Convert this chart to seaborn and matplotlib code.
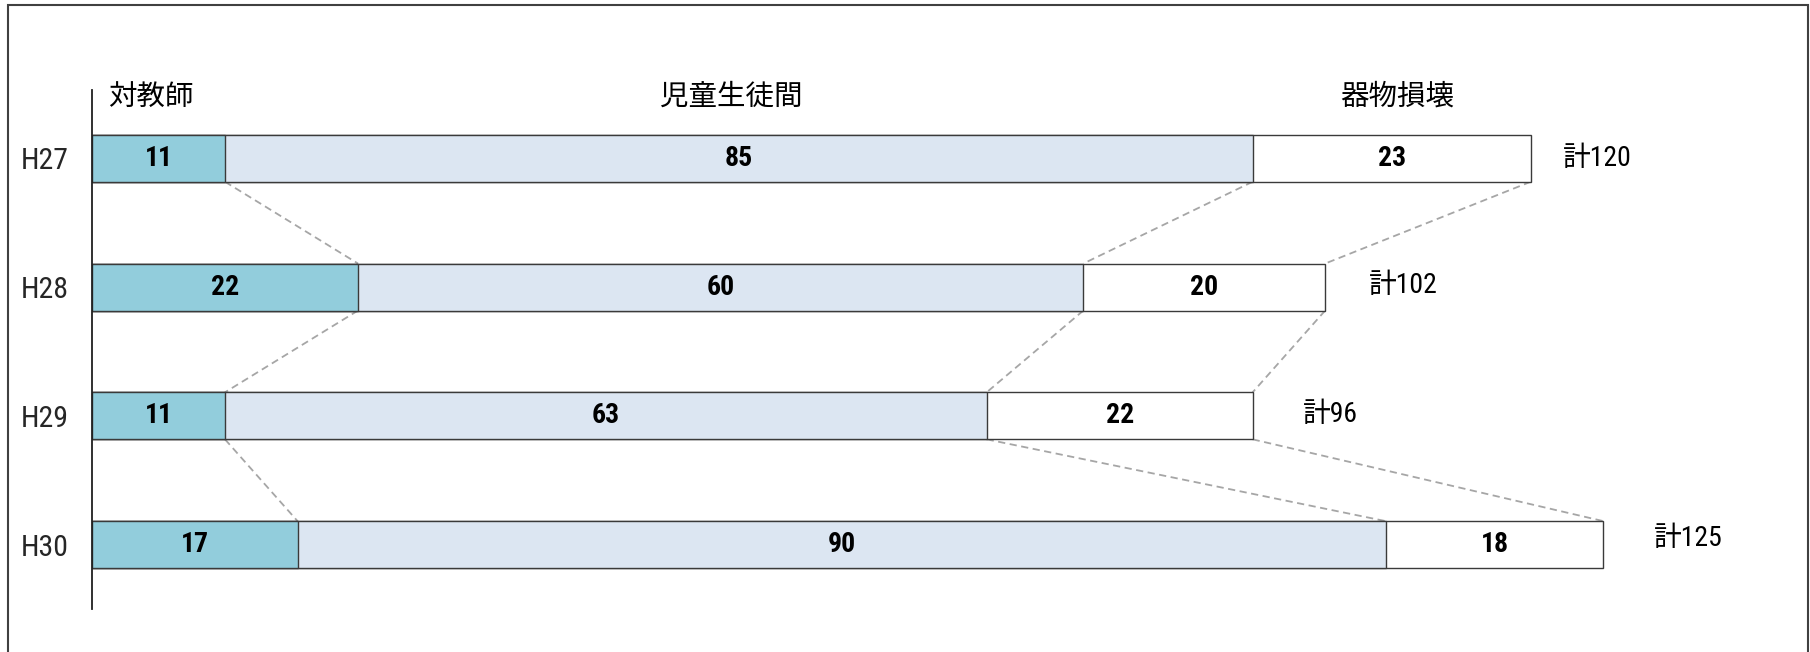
import matplotlib
matplotlib.use("Agg")
import matplotlib.pyplot as plt
import seaborn as sns
import numpy as np
import pandas as pd
from matplotlib.patches import Rectangle
from matplotlib import font_manager as fm

# ---- data ----
years = ["H27", "H28", "H29", "H30"]
series_names = ["対教師", "児童生徒間", "器物損壊"]
teacher = [11, 22, 11, 17]
students = [85, 60, 63, 90]
property_damage = [23, 20, 22, 18]
total_labels = ["計120", "計102", "計96", "計125"]

# ---- styles ----
colors = ["#92CDDC", "#DCE6F2", "#FFFFFF"]
edge = "#3a3a3a"
bar_h = 0.365
label_pad = [2.7, 3.6, 4.2, 4.2]
label_dy = [0.0, -0.01, -0.01, -0.05]

sns.set_style("white")
plt.rcParams["font.family"] = ["Noto Sans CJK JP", "DejaVu Sans"]
cjk = ["Noto Sans CJK JP", "DejaVu Sans"]

# look for an installed condensed font for the digits
names = {f.name for f in fm.fontManager.ttflist}
cond_stretch = {(f.name, f.stretch) for f in fm.fontManager.ttflist}
narrow = None
for cand in ["Liberation Sans Narrow", "Roboto Condensed", "Open Sans Condensed", "Noto Sans Condensed"]:
    if cand in names:
        narrow = dict(family=[cand] + cjk)
        break
if narrow is None and any(n == "DejaVu Sans" and s in ("condensed", "semi-condensed") for n, s in cond_stretch):
    narrow = dict(family=["DejaVu Sans"] + cjk, stretch="condensed")
if narrow is None:
    narrow = dict(family=cjk)

df = pd.DataFrame({"year": years, "t": teacher, "s": students, "p": property_damage})
df["c1"] = df["t"]
df["c2"] = df["t"] + df["s"]
df["c3"] = df["t"] + df["s"] + df["p"]

fig = plt.figure(figsize=(18.1, 6.52), dpi=100)
W, H = 1810, 652
ax_left, ax_right, ax_top, ax_bottom = 92, 1750, 90, 609
ax = fig.add_axes([ax_left / W, 1 - ax_bottom / H, (ax_right - ax_left) / W, (ax_bottom - ax_top) / H])

for col, c in [("c3", colors[2]), ("c2", colors[1]), ("c1", colors[0])]:
    sns.barplot(data=df, x=col, y="year", orient="h", color=c, width=bar_h,
                edgecolor=edge, linewidth=1.0, saturation=1, ax=ax)

px_per_unit = 12.09
ax.set_xlim(0, (ax_right - ax_left) / px_per_unit)
ax.set_ylim(3.5, -0.53)

for i in range(len(years)):
    starts = [0, df["c1"][i], df["c2"][i]]
    vals = [teacher[i], students[i], property_damage[i]]
    for st, v in zip(starts, vals):
        ax.text(st + v / 2, i, str(v), ha="center", va="center",
                fontsize=20, fontweight="bold", color="black", **narrow)
    ax.text(df["c3"][i] + label_pad[i], i + label_dy[i], total_labels[i],
            ha="left", va="center", fontsize=20, color="black", **narrow)

for k in ["c1", "c2", "c3"]:
    for i in range(len(years) - 1):
        ax.plot([df[k][i], df[k][i + 1]], [i + bar_h / 2, i + 1 - bar_h / 2],
                ls=(0, (4, 2.5)), color="#a6a6a6", lw=1.3, zorder=0.5)

mids = [df["c1"][0] / 2 - 0.6, (df["c1"][0] + df["c2"][0]) / 2 - 0.6, (df["c2"][0] + df["c3"][0]) / 2 + 0.5]
for name, m in zip(series_names, mids):
    ax.text(m, -0.48, name, ha="center", va="center", fontsize=20.5, family=cjk, color="black")

for s in ["top", "right", "bottom"]:
    ax.spines[s].set_visible(False)
ax.spines["left"].set_color("#202020")
ax.spines["left"].set_linewidth(1.3)
ax.set_xlabel("")
ax.set_ylabel("")
ax.set_xticks([])
ax.tick_params(axis="y", length=0, pad=17)
for lab in ax.get_yticklabels():
    lab.set_fontsize(21.5)
    if "stretch" in narrow:
        lab.set_fontstretch(narrow["stretch"])
    lab.set_family(narrow["family"])
ax.grid(False)

fig.patches.append(Rectangle((8 / W, -0.02), (1808 - 8) / W, 1.02 - 5 / H,
                             transform=fig.transFigure, fill=False,
                             edgecolor="#404040", linewidth=1.5))

fig.savefig("out.png", dpi=100)
